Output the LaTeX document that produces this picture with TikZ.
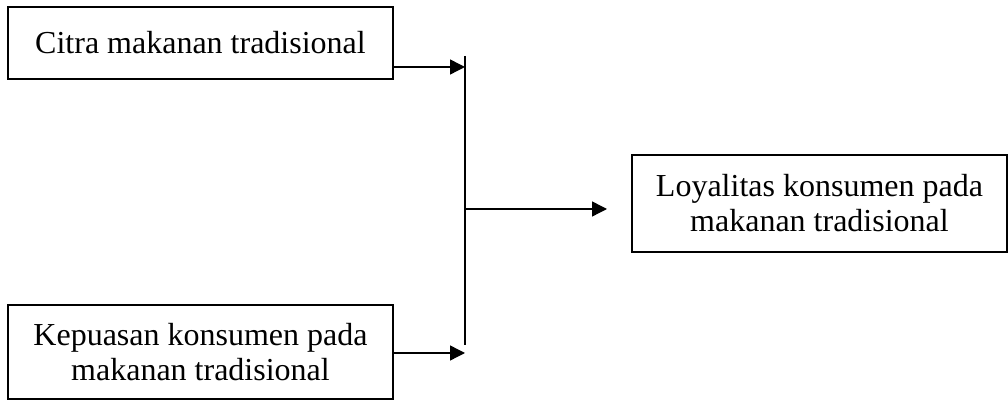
\documentclass[tikz,border=0pt]{standalone}
\usepackage{fontspec}
\setmainfont{Liberation Serif}
\usetikzlibrary{arrows.meta}
\begin{document}
\begin{tikzpicture}[x=0.5pt, y=-0.5pt,
        var/.style={rectangle, draw=black, line width=1pt, minimum width=192.5pt, align=center, font=\fontsize{16}{17.5}\selectfont, inner sep=0pt},
        arrow/.style={-{Triangle[length=7.5pt, width=7.5pt]}, line width=0.7pt},
        bar/.style={line width=1pt}
    ]
    \useasboundingbox (0,0) rectangle (1008,400);
    \node[var, minimum height=36pt] (citra) at (200.5,43) {Citra makanan tradisional};
    \node[var, minimum height=47pt] (kepuasan) at (200.5,352) {Kepuasan konsumen pada\\makanan tradisional};
    \node[var, minimum width=187.5pt, minimum height=48.5pt] (loyalitas) at (819.5,203.5) {Loyalitas konsumen pada\\makanan tradisional};
    \coordinate (bartop) at (465,56);
    \coordinate (barbot) at (465,345);
    \coordinate (j1) at (465,67);
    \coordinate (j2) at (465,353);
    \coordinate (mid) at (465,209);
    \draw[bar] (bartop) -- (barbot);
    \draw[arrow] (citra.east |- j1) -- (j1);
    \draw[arrow] (kepuasan.east |- j2) -- (j2);
    \draw[arrow, shorten >=12pt] (mid) -- (mid -| loyalitas.west);
\end{tikzpicture}
\end{document}
